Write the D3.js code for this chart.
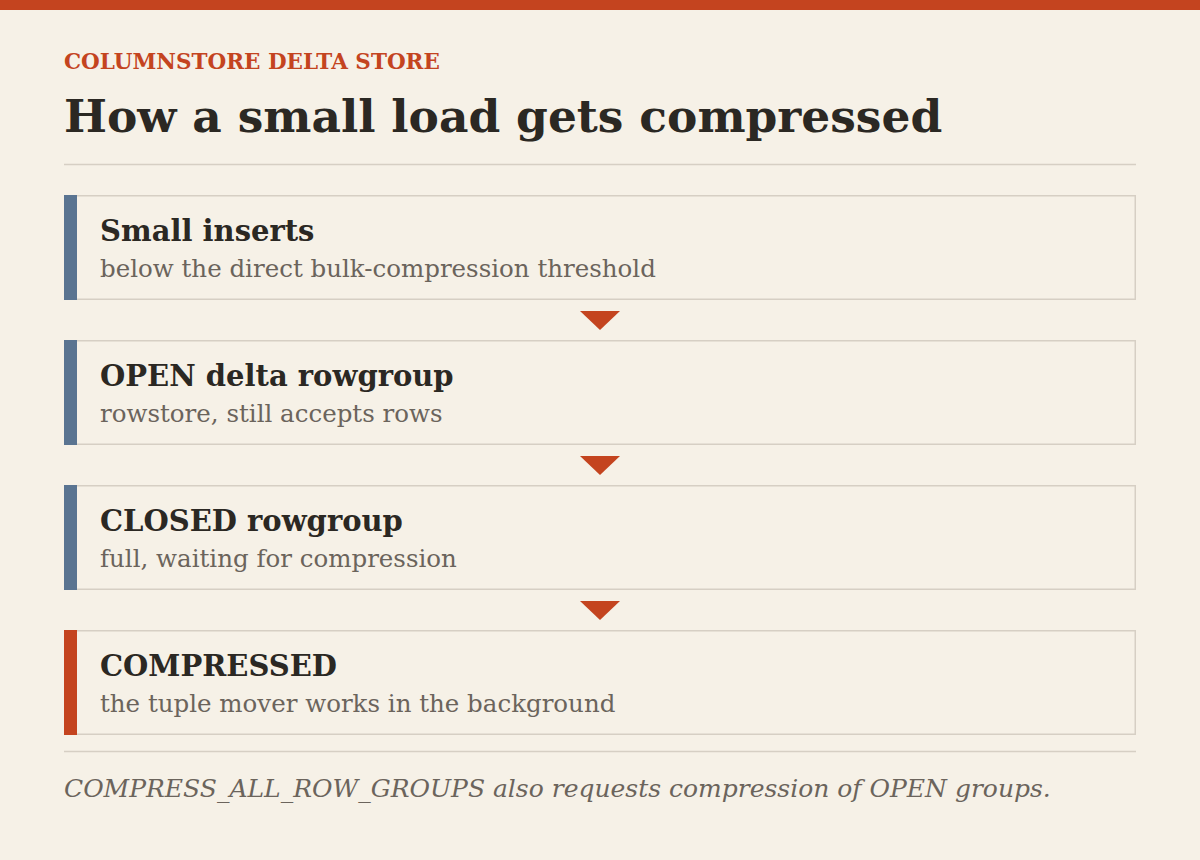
<!DOCTYPE html>
<html>
<head>
<meta charset="utf-8">
<script src="https://cdn.jsdelivr.net/npm/d3@7"></script>
<style>
  body { margin: 0; background: #f6f1e7; }
  text { font-family: "DejaVu Serif", "Liberation Serif", serif; }
</style>
</head>
<body>
<div id="chart"></div>
<script>
var kicker = "COLUMNSTORE DELTA STORE";
var title = "How a small load gets compressed";
var stepTitles = ["Small inserts", "OPEN delta rowgroup", "CLOSED rowgroup", "COMPRESSED"];
var stepNotes = ["below the direct bulk-compression threshold", "rowstore, still accepts rows",
                 "full, waiting for compression", "the tuple mover works in the background"];
var stepKinds = ["stage", "stage", "stage", "final"];
var footnote = "COMPRESS_ALL_ROW_GROUPS also requests compression of OPEN groups.";

var width = 1200, height = 860;
var left = 64, right = 1136;

var svg = d3.select("#chart").append("svg")
    .attr("width", width)
    .attr("height", height);

svg.append("rect").attr("width", width).attr("height", height).attr("fill", "#f6f1e7");
svg.append("rect").attr("width", width).attr("height", 10).attr("fill", "#c4441f");

svg.append("text")
    .attr("x", left).attr("y", 69)
    .attr("fill", "#c4441f")
    .style("font-size", "21.5px").style("font-weight", "bold")
    .text(kicker);

svg.append("text")
    .attr("x", left).attr("y", 132)
    .attr("fill", "#2b2823")
    .style("font-size", "45.5px").style("font-weight", "bold")
    .text(title);

svg.append("line")
    .attr("x1", left).attr("x2", right).attr("y1", 164.5).attr("y2", 164.5)
    .attr("stroke", "#d6cfc4").attr("stroke-width", 1.5);

/* one band per step: 105px boxes, 40px gaps */
var y = d3.scaleBand()
    .domain(d3.range(stepTitles.length))
    .range([195, 735])
    .paddingInner(40 / 145)
    .paddingOuter(0);

var color = d3.scaleOrdinal().domain(["stage", "final"]).range(["#5a7491", "#c4441f"]);

var steps = svg.selectAll(".step")
    .data(stepTitles).enter()
    .append("g")
    .attr("class", "step")
    .attr("transform", (d, i) => `translate(0, ${y(i)})`);

steps.append("rect")
    .attr("x", left + 0.75).attr("y", 0.75)
    .attr("width", right - left - 1.5).attr("height", y.bandwidth() - 1.5)
    .attr("fill", "#f6f1e7")
    .attr("stroke", "#d6cfc4").attr("stroke-width", 1.5);

steps.append("rect")
    .attr("x", left).attr("y", 0)
    .attr("width", 13).attr("height", y.bandwidth())
    .attr("fill", (d, i) => color(stepKinds[i]));

steps.append("text")
    .attr("x", 100).attr("y", 46)
    .attr("fill", "#2b2823")
    .style("font-size", "29px").style("font-weight", "bold")
    .text(d => d);

steps.append("text")
    .attr("x", 100).attr("y", 82)
    .attr("fill", "#6b645c")
    .style("font-size", "24.5px")
    .text((d, i) => stepNotes[i]);

/* arrows between steps */
svg.selectAll(".arrow")
    .data(d3.range(stepTitles.length - 1)).enter()
    .append("path")
    .attr("class", "arrow")
    .attr("d", i => {
        var top = y(i) + y.bandwidth() + 11;
        return `M580,${top} L620,${top} L600,${top + 19} Z`;
    })
    .attr("fill", "#c4441f");

svg.append("line")
    .attr("x1", left).attr("x2", right).attr("y1", 751.5).attr("y2", 751.5)
    .attr("stroke", "#d6cfc4").attr("stroke-width", 1.5);

svg.append("text")
    .attr("x", left).attr("y", 797)
    .attr("fill", "#6b645c")
    .style("font-size", "25px").style("font-style", "italic")
    .text(footnote);
</script>
</body>
</html>
